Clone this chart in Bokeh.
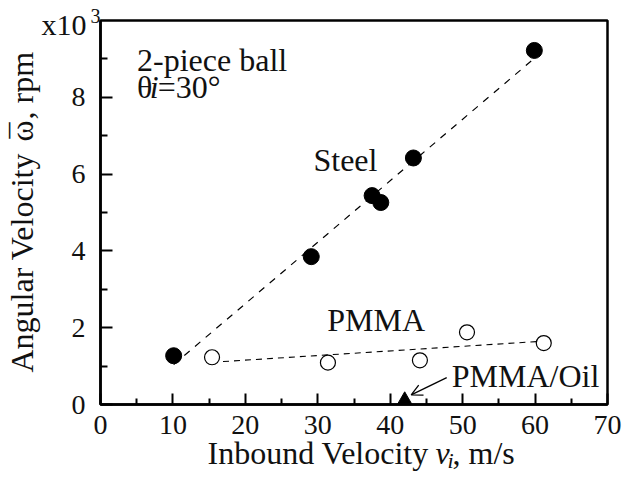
from bokeh.plotting import figure
from bokeh.models import Label, FixedTicker, Arrow, OpenHead, Range1d, LinearAxis
from bokeh.embed import file_html
from bokeh.resources import INLINE

# ---- data ----
steel_v = [10.1, 29.1, 37.5, 38.7, 43.2, 59.9]
steel_w = [1.27, 3.85, 5.44, 5.26, 6.42, 9.22]
pmma_v = [15.4, 31.4, 44.1, 50.6, 61.2]
pmma_w = [1.23, 1.09, 1.15, 1.88, 1.60]
oil_v = [42.0]
oil_w = [0.12]
steel_fit_v = [10.1, 60.0]
steel_fit_w = [1.04, 9.03]
pmma_fit_v = [15.4, 61.2]
pmma_fit_w = [1.10, 1.65]
x_ticks = [0, 10, 20, 30, 40, 50, 60, 70]
x_minor = [5, 15, 25, 35, 45, 55, 65]
y_ticks = [0, 2, 4, 6, 8]
y_minor = [1, 3, 5, 7, 9]
x_lim = [0, 70]
y_lim = [0, 10]

FONT = "Liberation Serif"
W, H = 624, 474
# axes box position in canvas pixels
L, R, T, B = 100, 607, 20, 404
SX = (R - L) / (x_lim[1] - x_lim[0])
SY = (B - T) / (y_lim[1] - y_lim[0])
BASE_FIX = 0.375  # em: shift so that the given y is the text baseline

p = figure(width=W, height=H, output_backend="svg", toolbar_location=None,
           x_axis_location=None, y_axis_location=None,
           x_range=Range1d(-L / SX, x_lim[1] + (W - R) / SX),
           y_range=Range1d(-(H - B) / SY, y_lim[1] + T / SY))
p.min_border = 0
p.background_fill_color = "white"
p.border_fill_color = "white"
p.outline_line_color = None
for g in p.grid:
    g.visible = False

xax = LinearAxis(fixed_location=0, bounds=tuple(x_lim),
                 ticker=FixedTicker(ticks=x_ticks, minor_ticks=x_minor))
yax = LinearAxis(fixed_location=0, bounds=tuple(y_lim),
                 ticker=FixedTicker(ticks=y_ticks, minor_ticks=y_minor))
for ax in (xax, yax):
    ax.axis_line_width = 2.5
    ax.axis_line_color = "black"
    ax.major_tick_line_width = 2
    ax.minor_tick_line_width = 2
    ax.major_tick_line_color = "black"
    ax.minor_tick_line_color = "black"
    ax.major_tick_out = 0
    ax.minor_tick_out = 0
    ax.major_label_text_font = FONT
    ax.major_label_text_font_size = "28px"
    ax.major_label_text_color = "#111111"
xax.major_tick_in = 11
xax.minor_tick_in = 6
yax.major_tick_in = 12
yax.minor_tick_in = 7
xax.major_label_standoff = 11
yax.major_label_standoff = 15
p.add_layout(xax, "below")
p.add_layout(yax, "left")

# box around the data area (top and right sides)
p.quad(left=[x_lim[0]], right=[x_lim[1]], bottom=[y_lim[0]], top=[y_lim[1]],
       fill_color=None, line_color="black", line_width=2.5)

# fit lines
p.line(steel_fit_v, steel_fit_w, line_color="black", line_width=1.2, line_dash="7 7")
p.line(pmma_fit_v, pmma_fit_w, line_color="black", line_width=1.1, line_dash="6 5")

# markers
p.scatter(steel_v, steel_w, marker="circle", size=16, fill_color="black", line_color="black")
p.scatter(pmma_v, pmma_w, marker="circle", size=15, fill_color="white", line_color="black",
          line_width=1.2)
p.scatter(oil_v, oil_w, marker="triangle", size=14, fill_color="black", line_color="black")

# arrow to PMMA/Oil
p.add_layout(Arrow(x_start=47.8, y_start=0.70, x_end=42.9, y_end=0.25,
                   line_width=1.3, line_color="black",
                   end=OpenHead(size=11, line_width=1.3, line_color="black")))


def cx(px):
    return (px - L) / SX


def cy(py):
    return (B - py) / SY


def add_px(text, px, py, fs=32, style="normal", angle=0, align="left", font=FONT):
    """Place text with its baseline at canvas pixel (px, py)."""
    if angle:
        px = px - BASE_FIX * fs
    else:
        py = py - BASE_FIX * fs
    p.add_layout(Label(x=cx(px), y=cy(py), text=text, text_font=font,
                       text_font_size=f"{fs}px", text_font_style=style,
                       text_baseline="alphabetic", text_align=align,
                       angle=angle, text_color="#111111"))


def add_data(text, x, y, fs=32, style="normal"):
    add_px(text, L + x * SX, B - y * SY, fs=fs, style=style)


# annotations inside the axes box (data coordinates of the baseline start)
add_data("2-piece ball", 5.05, 8.67)
add_data("\u03b8", 5.05, 7.95)
add_data("i", 6.8, 7.95, style="italic")
add_data("=30\u00b0", 7.9, 7.95)
add_data("Steel", 29.4, 6.05)
add_data("PMMA", 31.3, 1.90)
add_data("PMMA/Oil", 48.5, 0.44)

# exponent label
add_px("x10", 41, 35, fs=30)
add_px("3", 90, 23, fs=20)

# x-axis title
X0 = 207
add_px("Inbound Velocity", X0, 464)
add_px("v", X0 + 228, 464, style="italic")
add_px("i", X0 + 240, 468, fs=22, style="italic")
add_px(", m/s", X0 + 245, 464)

# y-axis title (rotated, pieces along the vertical)
A = 1.5707963
YB = 372       # bottom end of the title
add_px("Angular Velocity ", 33, YB, angle=A)
add_px("\u03c9", 33, YB - 231, angle=A)
add_px("\u00af", 33, YB - 231 - 11, angle=A, align="center")
add_px(", rpm", 33, YB - 231 - 22, angle=A)

open("out.html", "w").write(file_html(p, INLINE))
